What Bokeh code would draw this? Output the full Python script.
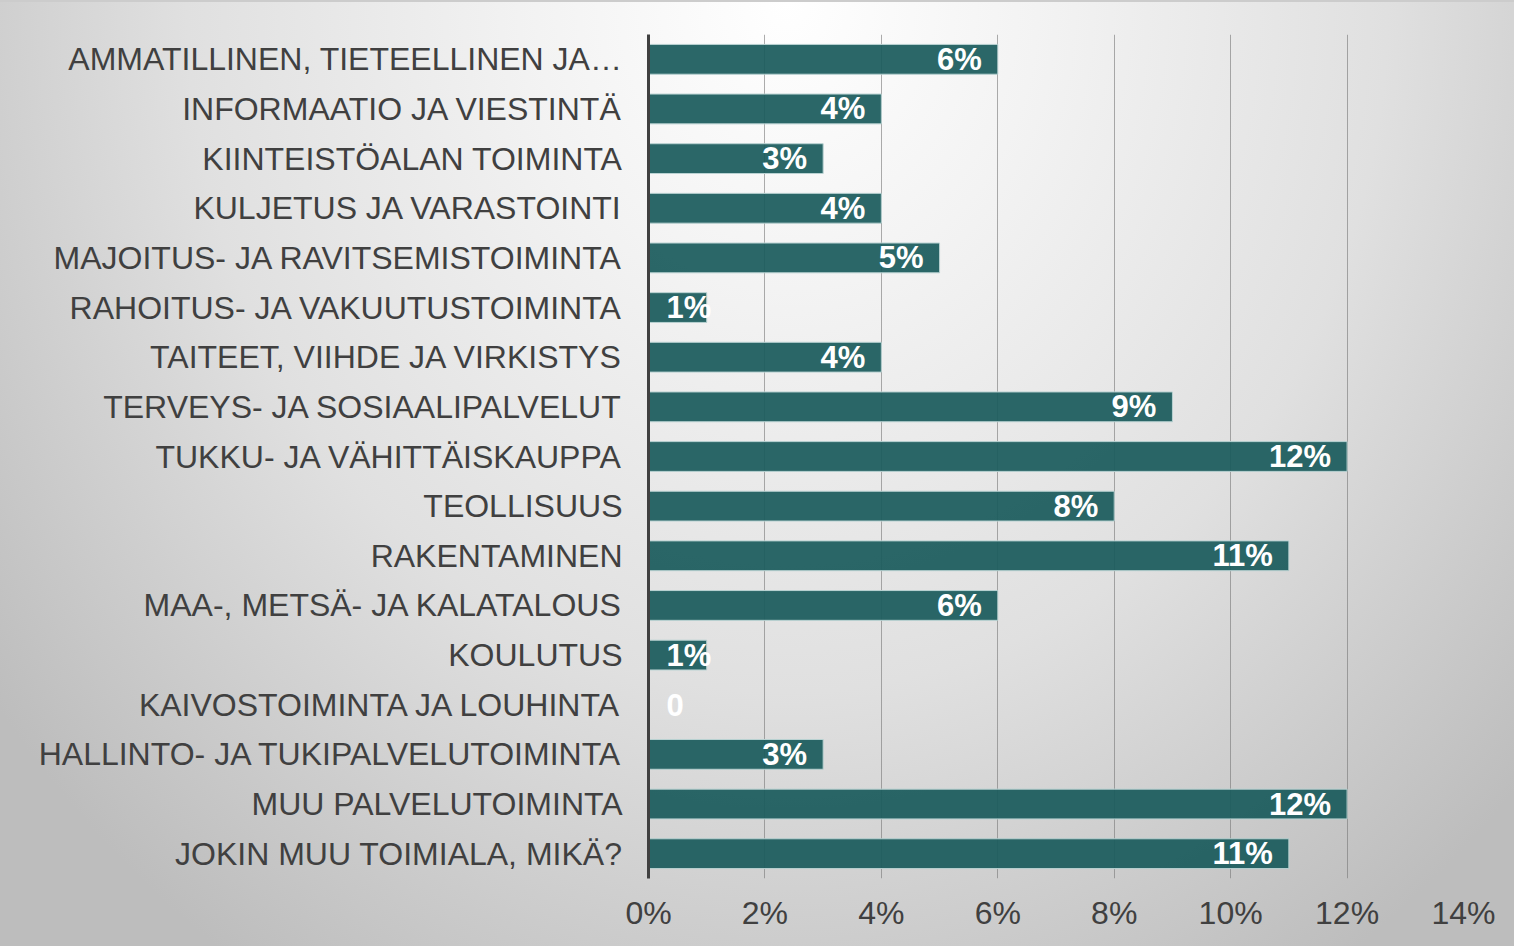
from bokeh.plotting import figure
from bokeh.models import FactorRange, Range1d, FixedTicker, PrintfTickFormatter, ColumnDataSource
from bokeh.core.properties import value
from bokeh.embed import file_html
from bokeh.resources import INLINE

categories = [
    "AMMATILLINEN, TIETEELLINEN JA…",
    "INFORMAATIO JA VIESTINTÄ",
    "KIINTEISTÖALAN TOIMINTA",
    "KULJETUS JA VARASTOINTI",
    "MAJOITUS- JA RAVITSEMISTOIMINTA",
    "RAHOITUS- JA VAKUUTUSTOIMINTA",
    "TAITEET, VIIHDE JA VIRKISTYS",
    "TERVEYS- JA SOSIAALIPALVELUT",
    "TUKKU- JA VÄHITTÄISKAUPPA",
    "TEOLLISUUS",
    "RAKENTAMINEN",
    "MAA-, METSÄ- JA KALATALOUS",
    "KOULUTUS",
    "KAIVOSTOIMINTA JA LOUHINTA",
    "HALLINTO- JA TUKIPALVELUTOIMINTA",
    "MUU PALVELUTOIMINTA",
    "JOKIN MUU TOIMIALA, MIKÄ?",
]
values = [6, 4, 3, 4, 5, 1, 4, 9, 12, 8, 11, 6, 1, 0, 3, 12, 11]
value_labels = ["6%", "4%", "3%", "4%", "5%", "1%", "4%", "9%", "12%", "8%",
                "11%", "6%", "1%", "0", "3%", "12%", "11%"]
x_ticks = [0, 2, 4, 6, 8, 10, 12, 14]

FONT = "Liberation Sans"

p = figure(
    width=1514, height=946,
    y_range=FactorRange(factors=list(reversed(categories))),
    x_range=Range1d(0, 14),
    output_backend="svg", toolbar_location=None,
    min_border_left=648, min_border_right=51,
    min_border_top=32, min_border_bottom=70,
)
p.background_fill_color = None
p.border_fill_color = None
p.outline_line_color = None
p.styles = {
    "background": "radial-gradient(ellipse 1000px 1150px at 52% 0%, #ffffff 0%, #f3f3f3 25%, #e0e0e0 60%, #cacaca 85%, #bdbdbd 100%)",
    "border-top": "2px solid #cccccc",
}

# bars
src = ColumnDataSource(dict(cat=categories, val=values))
p.hbar(y="cat", right="val", height=0.6, source=src,
       fill_color="#1b5b5d", fill_alpha=0.93,
       line_color="#b9d2d2", line_width=1)

# value labels (inside end; too-short bars get the label just right of the axis)
aligns, xs, offs = [], [], []
for v in values:
    if v < 2:
        aligns.append("left"); xs.append(0); offs.append(18)
    else:
        aligns.append("right"); xs.append(v); offs.append(-16)
lsrc = ColumnDataSource(dict(cat=categories, x=xs, text=value_labels, align=aligns, off=offs))
p.text(x="x", y="cat", text="text", source=lsrc, text_align="align", x_offset="off",
       text_baseline="middle", text_color="white", text_font=value(FONT),
       text_font_size="31px", text_font_style="bold", y_offset=0)

# grid
p.ygrid.grid_line_color = None
p.xgrid.ticker = FixedTicker(ticks=x_ticks)
p.xgrid.grid_line_color = "#777777"
p.xgrid.grid_line_alpha = 0.6
p.xgrid.grid_line_width = 1

# x axis
p.xaxis.ticker = FixedTicker(ticks=x_ticks)
p.xaxis.formatter = PrintfTickFormatter(format="%d%%")
p.xaxis.axis_line_color = None
p.xaxis.major_tick_line_color = None
p.xaxis.minor_tick_line_color = None
p.xaxis.major_label_standoff = 10
p.xaxis.major_label_text_font = FONT
p.xaxis.major_label_text_font_size = "32px"
p.xaxis.major_label_text_color = "#404040"

# y axis
p.yaxis.axis_line_color = "#404040"
p.yaxis.axis_line_width = 3
p.yaxis.major_tick_line_color = None
p.yaxis.minor_tick_line_color = None
p.yaxis.major_label_standoff = 20
p.yaxis.major_label_text_font = FONT
p.yaxis.major_label_text_font_size = "32px"
p.yaxis.major_label_text_color = "#404040"

open("out.html", "w").write(file_html(p, INLINE))
